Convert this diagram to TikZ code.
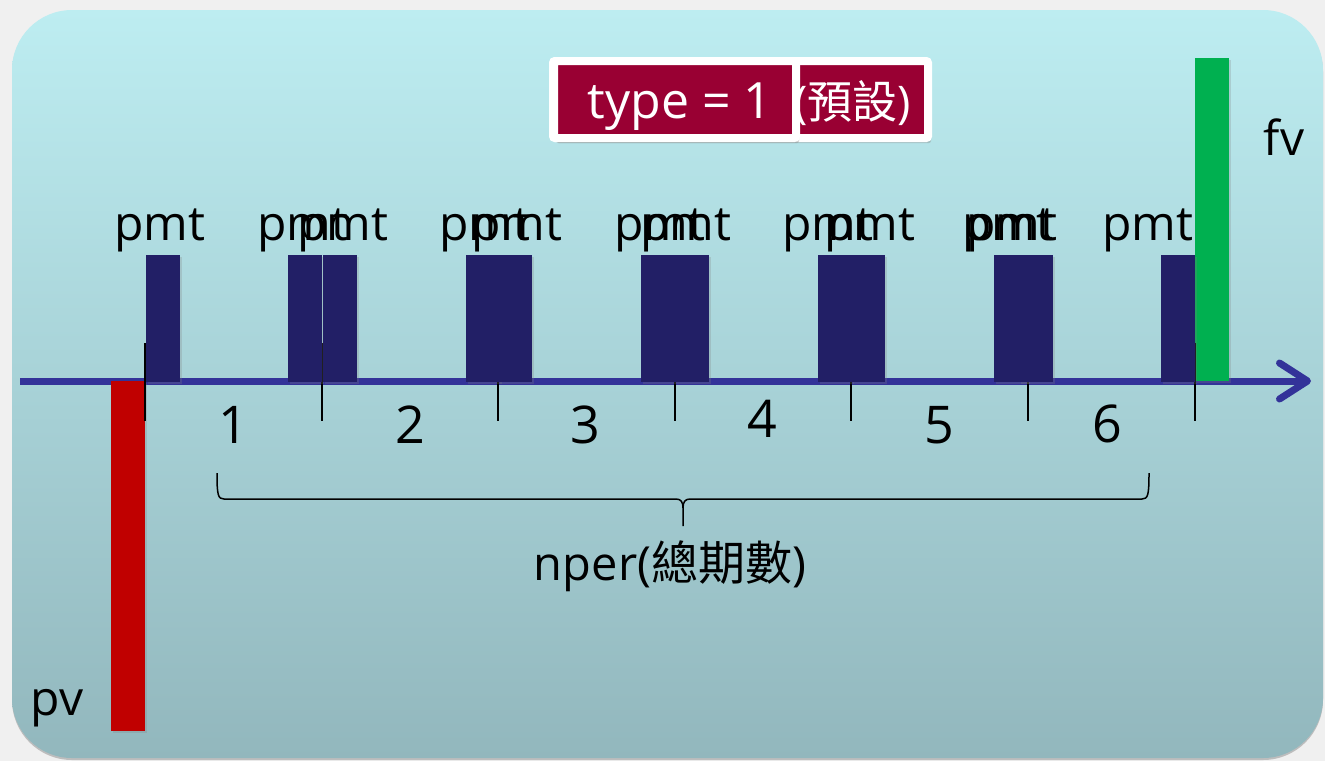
\documentclass[tikz,border=0pt]{standalone}
\usepackage{fontspec}
\setmainfont{Open Sans}
\newfontfamily\cjk{Noto Sans CJK TC}
\usetikzlibrary{arrows.meta,shadows}
\definecolor{axisblue}{HTML}{333399}
\definecolor{pmtblue}{HTML}{221F66}
\definecolor{pvred}{HTML}{C00000}
\definecolor{fvgreen}{HTML}{00B050}
\definecolor{typered}{HTML}{990033}
\definecolor{paneltop}{HTML}{BDEDF1}
\definecolor{panelbot}{HTML}{92B7BD}
\tikzset{
	lbl/.style={inner sep=0pt, font=\fontsize{48}{56}\selectfont},
	num/.style={inner sep=0pt, font=\fontsize{52}{60}\selectfont},
	typebox/.style={fill=typered, draw=white, line width=8pt, minimum height=77pt, inner sep=0pt, rounded corners=2pt,
		drop shadow={opacity=0.35, shadow xshift=3pt, shadow yshift=-5pt}},
	bar/.style={drop shadow={opacity=0.25, shadow xshift=2pt, shadow yshift=-2pt}}
}

\begin{document}
\begin{tikzpicture}[x=1pt,y=-1pt]
					\useasboundingbox (0,0) rectangle (1325,761);
					\fill[gray!12] (0,0) rectangle (1325,761);
					%PANEL
					\path[top color=paneltop, bottom color=panelbot, rounded corners=60pt,
						drop shadow={opacity=0.45, shadow xshift=0pt, shadow yshift=-2pt}] (12,10) rectangle (1323,758);
					%AXIS
					\draw[axisblue, line width=7pt, -{Straight Barb[round, length=28pt 0, width=36pt 0]}] (20,381) -- (1311,381);
					%pv and fv
					\fill[pvred, bar] (111,381) rectangle (145,731);
					\fill[fvgreen, bar] (1195,58) rectangle (1229,381);
					\node[lbl, anchor=base] (pv) at (57,715) {pv};
					\node[lbl, anchor=base] (fv) at (1284,155) {fv};
					%TICKS
					\foreach \x in {145,322,498,675,851,1028,1195}
						\draw[line width=2pt] (\x,343) -- (\x,421);
					%PMT
					\foreach \x/\c [count=\i] in {146/160,288/303,323/343,466/485,498/517,641/660,675/686,818/828,851/870,994/1008,1019/1012,1161/1148}{
						\fill[pmtblue, bar] (\x,255) rectangle +(34,127);
						\node[lbl, anchor=base] (pmt\i) at (\c,240) {pmt};
					}
					%PERIODS
					\foreach \x/\y/\n in {233/443/1,410/443/2,585/443/3,762/437/4,939/443/5,1107/442/6}
						\node[num, anchor=base] (n\n) at (\x,\y) {\n};
					%BRACE
					\draw[line width=1.5pt] (217,473) .. controls (217,495) and (218,499) .. (224,499) -- (676,499)
						.. controls (681,499) and (683,502) .. (683,508) -- (683,526)
						(683,508) .. controls (683,502) and (685,499) .. (690,499) -- (1142,499)
						.. controls (1148,499) and (1149,495) .. (1149,473);
					\node[lbl, anchor=base, font=\fontsize{47}{56}\selectfont] (nper) at (670,580) {nper({\cjk 總期數})};
					%TYPE
					\node[typebox, minimum width=375pt] (type0) at (740.5,99.5) {};
					\node[lbl, anchor=base east, text=white, font=\fontsize{45}{56}\selectfont] (dflt) at (911,118) {({\cjk 預設})};
					\node[typebox, minimum width=242pt] (type1) at (675,99.5) {};
					\node[lbl, anchor=base, text=white, font=\fontsize{50}{60}\selectfont] (tp) at (680,118) {type = 1};
\end{tikzpicture}
\end{document}
